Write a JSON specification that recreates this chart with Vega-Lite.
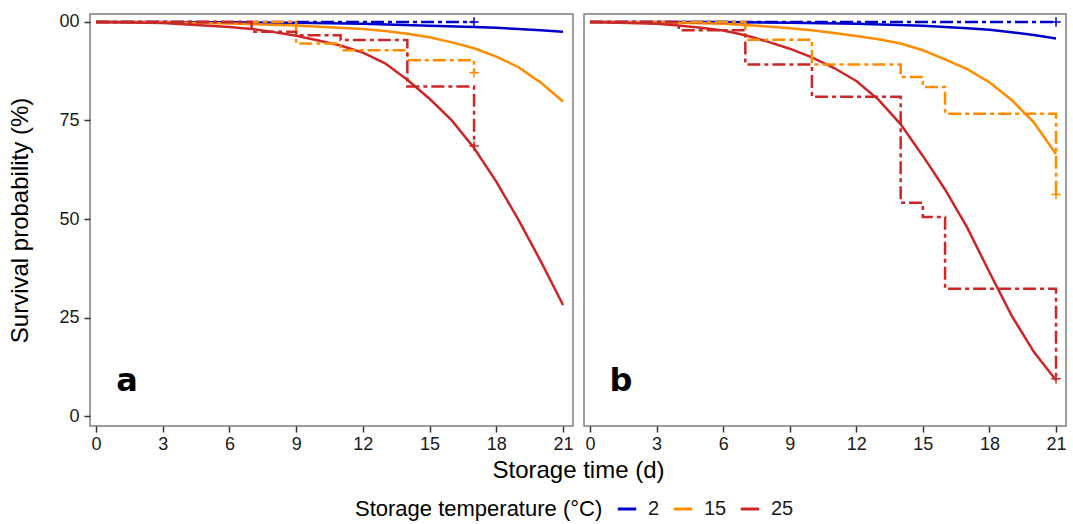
{
  "$schema": "https://vega.github.io/schema/vega-lite/v6.json",
  "background": "white",
  "padding": {"left": 8, "top": 12, "right": 5, "bottom": 2},
  "bounds": "flush",
  "config": {
    "font": "Liberation Sans",
    "view": {"stroke": "#7f7f7f", "strokeWidth": 1.5},
    "concat": {"spacing": 11},
    "axis": {"grid": false, "domain": false, "tickColor": "#333333", "tickSize": 6, "tickWidth": 1.5, "labelColor": "#1a1a1a", "labelFontSize": 18, "labelFont": "Liberation Sans", "titleFont": "Liberation Sans", "titleFontSize": 24, "titleFontWeight": "normal", "titleColor": "black"},
    "legend": {"orient": "none", "legendX": 265, "legendY": 484, "direction": "horizontal", "gridAlign": "none", "titleOrient": "left", "titleFontSize": 22, "titleFontWeight": "normal", "titleColor": "black", "titleFont": "Liberation Sans", "titleLimit": 600, "labelFont": "Liberation Sans", "labelFontSize": 20, "labelColor": "#1a1a1a", "symbolType": "stroke", "symbolStrokeWidth": 3, "symbolSize": 340, "columnPadding": 7, "labelOffset": 10, "titlePadding": 13}
  },
  "datasets": {
    "fit": [
      {"panel": "a", "temp": "2", "t": 0, "v": 100}, {"panel": "a", "temp": "2", "t": 3, "v": 99.98}, {"panel": "a", "temp": "2", "t": 6, "v": 99.9}, {"panel": "a", "temp": "2", "t": 9, "v": 99.75}, {"panel": "a", "temp": "2", "t": 12, "v": 99.5}, {"panel": "a", "temp": "2", "t": 15, "v": 99.0}, {"panel": "a", "temp": "2", "t": 17, "v": 98.7}, {"panel": "a", "temp": "2", "t": 18, "v": 98.5}, {"panel": "a", "temp": "2", "t": 19, "v": 98.2}, {"panel": "a", "temp": "2", "t": 20, "v": 97.9}, {"panel": "a", "temp": "2", "t": 21, "v": 97.5},
      {"panel": "a", "temp": "15", "t": 0, "v": 100}, {"panel": "a", "temp": "15", "t": 3, "v": 99.9}, {"panel": "a", "temp": "15", "t": 6, "v": 99.6}, {"panel": "a", "temp": "15", "t": 9, "v": 99.1}, {"panel": "a", "temp": "15", "t": 12, "v": 98.2}, {"panel": "a", "temp": "15", "t": 13, "v": 97.7}, {"panel": "a", "temp": "15", "t": 14, "v": 97.0}, {"panel": "a", "temp": "15", "t": 15, "v": 96.1}, {"panel": "a", "temp": "15", "t": 16, "v": 94.8}, {"panel": "a", "temp": "15", "t": 17, "v": 93.3}, {"panel": "a", "temp": "15", "t": 18, "v": 91.2}, {"panel": "a", "temp": "15", "t": 19, "v": 88.5}, {"panel": "a", "temp": "15", "t": 20, "v": 84.6}, {"panel": "a", "temp": "15", "t": 21, "v": 79.8},
      {"panel": "a", "temp": "25", "t": 0, "v": 100}, {"panel": "a", "temp": "25", "t": 3, "v": 99.7}, {"panel": "a", "temp": "25", "t": 6, "v": 98.7}, {"panel": "a", "temp": "25", "t": 7, "v": 98.2}, {"panel": "a", "temp": "25", "t": 8, "v": 97.4}, {"panel": "a", "temp": "25", "t": 9, "v": 96.5}, {"panel": "a", "temp": "25", "t": 10, "v": 95.3}, {"panel": "a", "temp": "25", "t": 11, "v": 94.0}, {"panel": "a", "temp": "25", "t": 12, "v": 92.2}, {"panel": "a", "temp": "25", "t": 13, "v": 89.5}, {"panel": "a", "temp": "25", "t": 14, "v": 85.3}, {"panel": "a", "temp": "25", "t": 15, "v": 80.5}, {"panel": "a", "temp": "25", "t": 16, "v": 75.0}, {"panel": "a", "temp": "25", "t": 17, "v": 68.0}, {"panel": "a", "temp": "25", "t": 18, "v": 59.5}, {"panel": "a", "temp": "25", "t": 19, "v": 49.8}, {"panel": "a", "temp": "25", "t": 20, "v": 39.3}, {"panel": "a", "temp": "25", "t": 21, "v": 28.2},
      {"panel": "b", "temp": "2", "t": 0, "v": 100}, {"panel": "b", "temp": "2", "t": 6, "v": 99.95}, {"panel": "b", "temp": "2", "t": 9, "v": 99.8}, {"panel": "b", "temp": "2", "t": 12, "v": 99.5}, {"panel": "b", "temp": "2", "t": 15, "v": 99.0}, {"panel": "b", "temp": "2", "t": 17, "v": 98.4}, {"panel": "b", "temp": "2", "t": 18, "v": 98.0}, {"panel": "b", "temp": "2", "t": 19, "v": 97.4}, {"panel": "b", "temp": "2", "t": 20, "v": 96.7}, {"panel": "b", "temp": "2", "t": 21, "v": 95.8},
      {"panel": "b", "temp": "15", "t": 0, "v": 100}, {"panel": "b", "temp": "15", "t": 3, "v": 99.9}, {"panel": "b", "temp": "15", "t": 6, "v": 99.5}, {"panel": "b", "temp": "15", "t": 7, "v": 99.2}, {"panel": "b", "temp": "15", "t": 8, "v": 98.8}, {"panel": "b", "temp": "15", "t": 9, "v": 98.4}, {"panel": "b", "temp": "15", "t": 10, "v": 97.9}, {"panel": "b", "temp": "15", "t": 11, "v": 97.2}, {"panel": "b", "temp": "15", "t": 12, "v": 96.4}, {"panel": "b", "temp": "15", "t": 13, "v": 95.6}, {"panel": "b", "temp": "15", "t": 14, "v": 94.5}, {"panel": "b", "temp": "15", "t": 15, "v": 92.8}, {"panel": "b", "temp": "15", "t": 16, "v": 90.5}, {"panel": "b", "temp": "15", "t": 17, "v": 88.0}, {"panel": "b", "temp": "15", "t": 18, "v": 84.7}, {"panel": "b", "temp": "15", "t": 19, "v": 80.2}, {"panel": "b", "temp": "15", "t": 20, "v": 74.5}, {"panel": "b", "temp": "15", "t": 21, "v": 66.5},
      {"panel": "b", "temp": "25", "t": 0, "v": 100}, {"panel": "b", "temp": "25", "t": 3, "v": 99.5}, {"panel": "b", "temp": "25", "t": 4, "v": 99.1}, {"panel": "b", "temp": "25", "t": 5, "v": 98.5}, {"panel": "b", "temp": "25", "t": 6, "v": 97.8}, {"panel": "b", "temp": "25", "t": 7, "v": 96.6}, {"panel": "b", "temp": "25", "t": 8, "v": 95.0}, {"panel": "b", "temp": "25", "t": 9, "v": 93.2}, {"panel": "b", "temp": "25", "t": 10, "v": 91.0}, {"panel": "b", "temp": "25", "t": 11, "v": 88.3}, {"panel": "b", "temp": "25", "t": 12, "v": 85.0}, {"panel": "b", "temp": "25", "t": 13, "v": 80.3}, {"panel": "b", "temp": "25", "t": 14, "v": 74.0}, {"panel": "b", "temp": "25", "t": 15, "v": 66.0}, {"panel": "b", "temp": "25", "t": 16, "v": 57.5}, {"panel": "b", "temp": "25", "t": 17, "v": 47.8}, {"panel": "b", "temp": "25", "t": 18, "v": 36.5}, {"panel": "b", "temp": "25", "t": 19, "v": 25.5}, {"panel": "b", "temp": "25", "t": 20, "v": 16.3}, {"panel": "b", "temp": "25", "t": 21, "v": 9.1}
    ],
    "km": [
      {"panel": "a", "temp": "2", "t": 0, "v": 100}, {"panel": "a", "temp": "2", "t": 17, "v": 100},
      {"panel": "a", "temp": "15", "t": 0, "v": 100}, {"panel": "a", "temp": "15", "t": 9, "v": 94.5}, {"panel": "a", "temp": "15", "t": 11, "v": 92.8}, {"panel": "a", "temp": "15", "t": 14, "v": 90.3}, {"panel": "a", "temp": "15", "t": 17, "v": 87.1},
      {"panel": "a", "temp": "25", "t": 0, "v": 100}, {"panel": "a", "temp": "25", "t": 7, "v": 97.5}, {"panel": "a", "temp": "25", "t": 9, "v": 96.6}, {"panel": "a", "temp": "25", "t": 11, "v": 95.4}, {"panel": "a", "temp": "25", "t": 14, "v": 83.6}, {"panel": "a", "temp": "25", "t": 17, "v": 68.5},
      {"panel": "b", "temp": "2", "t": 0, "v": 100}, {"panel": "b", "temp": "2", "t": 21, "v": 100},
      {"panel": "b", "temp": "15", "t": 0, "v": 100}, {"panel": "b", "temp": "15", "t": 7, "v": 95.5}, {"panel": "b", "temp": "15", "t": 10, "v": 89.2}, {"panel": "b", "temp": "15", "t": 14, "v": 86.0}, {"panel": "b", "temp": "15", "t": 15, "v": 83.5}, {"panel": "b", "temp": "15", "t": 16, "v": 76.7}, {"panel": "b", "temp": "15", "t": 21, "v": 56.2},
      {"panel": "b", "temp": "25", "t": 0, "v": 100}, {"panel": "b", "temp": "25", "t": 4, "v": 97.9}, {"panel": "b", "temp": "25", "t": 7, "v": 89.2}, {"panel": "b", "temp": "25", "t": 10, "v": 81.0}, {"panel": "b", "temp": "25", "t": 14, "v": 54.1}, {"panel": "b", "temp": "25", "t": 15, "v": 50.5}, {"panel": "b", "temp": "25", "t": 16, "v": 32.3}, {"panel": "b", "temp": "25", "t": 21, "v": 9.5}
    ],
    "censor": [
      {"panel": "a", "temp": "2", "t": 17, "v": 100}, {"panel": "a", "temp": "15", "t": 17, "v": 87.1}, {"panel": "a", "temp": "25", "t": 17, "v": 68.5},
      {"panel": "b", "temp": "2", "t": 21, "v": 100}, {"panel": "b", "temp": "15", "t": 21, "v": 56.2}, {"panel": "b", "temp": "25", "t": 21, "v": 9.5}
    ],
    "labels": [
      {"panel": "a", "t": 1.4, "v": 6.3, "label": "a"},
      {"panel": "b", "t": 1.4, "v": 6.3, "label": "b"}
    ]
  },
  "hconcat": [
    {
      "width": 483,
      "height": 412,
      "encoding": {
        "x": {"field": "t", "type": "quantitative", "scale": {"domain": [-0.27, 21.45], "nice": false, "zero": false}, "axis": {"values": [0, 3, 6, 9, 12, 15, 18, 21], "title": "Storage time (d)", "titleX": 488, "labelPadding": 3, "titlePadding": 5}},
        "y": {"field": "v", "type": "quantitative", "scale": {"domain": [-2.5, 102], "nice": false, "zero": false}, "axis": {"values": [0, 25, 50, 75, 100], "title": "Survival probability (%)", "labelExpr": "datum.value == 100 ? '00' : datum.label", "labelPadding": 5, "titlePadding": 26}}
      },
      "layer": [
        {"data": {"name": "fit"}, "transform": [{"filter": "datum.panel == 'a'"}], "mark": {"type": "line", "strokeWidth": 2.5, "clip": true},
         "encoding": {"color": {"field": "temp", "type": "nominal", "title": "Storage temperature (°C)", "scale": {"domain": ["2", "15", "25"], "range": ["#0000CD", "#FF8C00", "#CD2626"]}, "legend": {"symbolType": "stroke", "titleLimit": 600, "orient": "none", "legendX": 265, "legendY": 484}}}},
        {"data": {"name": "km"}, "transform": [{"filter": "datum.panel == 'a'"}], "mark": {"type": "line", "interpolate": "step-after", "strokeWidth": 2.5, "strokeDash": [13, 4, 4, 4], "clip": true},
         "encoding": {"color": {"field": "temp", "type": "nominal", "title": "Storage temperature (°C)"}}},
        {"data": {"name": "censor"}, "transform": [{"filter": "datum.panel == 'a'"}], "mark": {"type": "point", "shape": "M-1,0L1,0M0,-1L0,1", "filled": false, "strokeWidth": 1.5, "size": 90, "opacity": 1},
         "encoding": {"color": {"field": "temp", "type": "nominal", "title": "Storage temperature (°C)"}}},
        {"data": {"name": "labels"}, "transform": [{"filter": "datum.panel == 'a'"}], "mark": {"type": "text", "font": "DejaVu Sans", "fontWeight": "bold", "fontSize": 32, "align": "center", "baseline": "alphabetic", "color": "black"},
         "encoding": {"text": {"field": "label"}}}
      ]
    },
    {
      "width": 482,
      "height": 412,
      "encoding": {
        "x": {"field": "t", "type": "quantitative", "scale": {"domain": [-0.27, 21.45], "nice": false, "zero": false}, "axis": {"values": [0, 3, 6, 9, 12, 15, 18, 21], "title": null, "labelPadding": 3}},
        "y": {"field": "v", "type": "quantitative", "scale": {"domain": [-2.5, 102], "nice": false, "zero": false}, "axis": null}
      },
      "layer": [
        {"data": {"name": "fit"}, "transform": [{"filter": "datum.panel == 'b'"}], "mark": {"type": "line", "strokeWidth": 2.5, "clip": true},
         "encoding": {"color": {"field": "temp", "type": "nominal", "title": "Storage temperature (°C)", "scale": {"domain": ["2", "15", "25"], "range": ["#0000CD", "#FF8C00", "#CD2626"]}}}},
        {"data": {"name": "km"}, "transform": [{"filter": "datum.panel == 'b'"}], "mark": {"type": "line", "interpolate": "step-after", "strokeWidth": 2.5, "strokeDash": [13, 4, 4, 4], "clip": true},
         "encoding": {"color": {"field": "temp", "type": "nominal", "title": "Storage temperature (°C)"}}},
        {"data": {"name": "censor"}, "transform": [{"filter": "datum.panel == 'b'"}], "mark": {"type": "point", "shape": "M-1,0L1,0M0,-1L0,1", "filled": false, "strokeWidth": 1.5, "size": 90, "opacity": 1},
         "encoding": {"color": {"field": "temp", "type": "nominal", "title": "Storage temperature (°C)"}}},
        {"data": {"name": "labels"}, "transform": [{"filter": "datum.panel == 'b'"}], "mark": {"type": "text", "font": "DejaVu Sans", "fontWeight": "bold", "fontSize": 32, "align": "center", "baseline": "alphabetic", "color": "black"},
         "encoding": {"text": {"field": "label"}}}
      ]
    }
  ],
  "resolve": {"scale": {"color": "shared"}}
}
